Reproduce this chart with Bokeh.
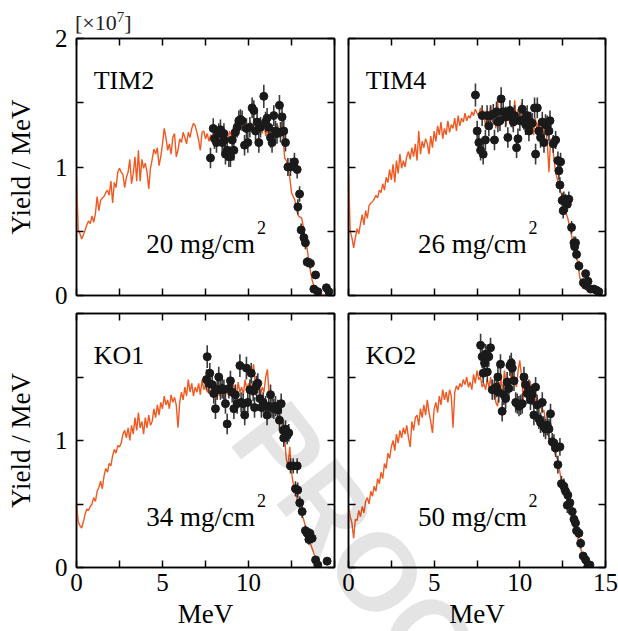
import numpy as np
from bokeh.plotting import figure
from bokeh.models import Range1d, FixedTicker, LinearAxis, Label, ColumnDataSource, Div
from bokeh.layouts import column, row
from bokeh.embed import file_html
from bokeh.resources import INLINE

FONT = "Liberation Serif"
ORANGE = "#f05a22"

# ---------------- data ----------------
SIM_STEP = 0.1  # MeV per simulation bin (bins start at 0)

tim2_sim = [0.92, 0.51, 0.48, 0.44, 0.47, 0.51, 0.55, 0.58, 0.56, 0.62,
            0.57, 0.64, 0.77, 0.66, 0.74, 0.76, 0.77, 0.80, 0.82, 0.78,
            0.89, 0.72, 0.88, 0.84, 0.96, 0.99, 0.96, 0.94, 0.84, 0.92,
            0.96, 1.06, 0.87, 0.95, 1.08, 0.89, 1.13, 0.89, 1.06, 0.99,
            1.03, 0.96, 0.83, 0.99, 1.06, 1.14, 1.10, 1.15, 1.01, 1.08,
            1.18, 1.30, 1.23, 1.13, 1.18, 1.10, 1.23, 1.26, 1.08, 1.13,
            1.22, 1.19, 1.27, 1.23, 1.18, 1.27, 1.23, 1.30, 1.34, 1.32,
            1.27, 1.21, 1.13, 1.27, 1.28, 1.22, 1.26, 1.20,
            1.25, 1.22, 1.28, 1.20, 1.25, 1.30, 1.22, 1.27, 1.15, 1.25,
            1.20, 1.28, 1.24, 1.30, 1.26, 1.32, 1.25, 1.35, 1.30, 1.36,
            1.28, 1.33, 1.30, 1.36, 1.28, 1.32, 1.25, 1.35, 1.28, 1.32,
            1.26, 1.38, 1.24, 1.30, 1.22, 1.33, 1.26, 1.30, 1.24, 1.32,
            1.28, 1.30,
            1.25, 1.07, 1.05, 0.98, 0.92, 0.80, 0.77, 0.74, 0.66, 0.62,
            0.61, 0.60, 0.52, 0.45, 0.37, 0.28, 0.19, 0.12, 0.07, 0.04,
            0.02, 0.01, 0.01, 0.01, 0.00, 0.00]

tim4_sim = [0.95, 0.50, 0.45, 0.37, 0.45, 0.52, 0.48, 0.56, 0.63, 0.55,
            0.66, 0.60, 0.70, 0.72, 0.73, 0.75, 0.78, 0.76, 0.82, 0.80,
            0.87, 0.82, 0.92, 0.88, 0.98, 0.90, 1.02, 0.88, 1.05, 0.95,
            1.10, 0.99, 1.05, 1.00, 1.08, 1.12, 1.06, 1.15, 1.08, 1.18,
            1.05, 1.28, 1.10, 1.20, 1.15, 1.22, 1.18, 1.10, 1.24, 1.15,
            1.28, 1.20, 1.32, 1.25, 1.35, 1.22, 1.30, 1.25, 1.36, 1.27,
            1.33, 1.30, 1.38, 1.28, 1.40, 1.32, 1.38, 1.35, 1.42, 1.36,
            1.40, 1.38, 1.43, 1.40, 1.45, 1.42, 1.40, 1.46, 1.38, 1.44,
            1.30, 1.42, 1.36, 1.48, 1.35, 1.42, 1.30, 1.52, 1.36, 1.45,
            1.38, 1.42, 1.32, 1.45, 1.35, 1.40, 1.30, 1.52, 1.35, 1.45,
            1.38, 1.50, 1.32, 1.45, 1.38, 1.42, 1.30, 1.40, 1.25, 1.38,
            1.30, 1.36, 1.28, 1.35, 1.25, 1.30,
            1.20, 0.96, 1.22, 1.18, 1.05, 0.95, 0.90, 0.85, 0.80, 0.76,
            0.70, 0.64, 0.60, 0.54, 0.48, 0.42, 0.36, 0.30, 0.24, 0.14,
            0.10, 0.08, 0.06, 0.04, 0.04, 0.03, 0.03, 0.03, 0.02, 0.02,
            0.01, 0.00]

ko1_sim = [0.51, 0.36, 0.33, 0.31, 0.36, 0.42, 0.46, 0.45, 0.48, 0.50,
           0.55, 0.52, 0.60, 0.63, 0.68, 0.62, 0.72, 0.78, 0.75, 0.82,
           0.80, 0.88, 0.93, 0.90, 0.96, 0.95, 0.98, 1.05, 1.08, 1.02,
           1.10, 1.00, 1.12, 1.05, 1.18, 1.08, 1.22, 1.10, 1.15, 1.05,
           1.18, 1.10, 1.20, 1.12, 1.15, 1.25, 1.18, 1.28, 1.20, 1.30,
           1.25, 1.35, 1.28, 1.32, 1.25, 1.36, 1.30, 1.34, 1.28, 1.10,
           1.30, 1.38, 1.32, 1.42, 1.35, 1.48, 1.38, 1.45, 1.35, 1.42,
           1.38, 1.45, 1.36, 1.48, 1.40, 1.44, 1.38, 1.42, 1.35, 1.45,
           1.38, 1.32, 1.42, 1.35, 1.45, 1.38, 1.30, 1.42, 1.36, 1.44,
           1.38, 1.45, 1.40, 1.35, 1.46, 1.38, 1.42, 1.36, 1.48, 1.40,
           1.45, 1.38, 1.52, 1.60, 1.42, 1.38, 1.45, 1.36, 1.42, 1.38,
           1.50, 1.56, 1.35, 1.40, 1.32, 1.30, 1.25, 1.28, 1.22, 1.15,
           1.08, 1.02, 0.85, 0.80, 0.95, 0.75, 0.66, 0.60, 0.56, 0.50,
           0.45, 0.42, 0.38, 0.33, 0.29, 0.24, 0.19, 0.15, 0.11, 0.07,
           0.04, 0.02, 0.00, 0.00]

ko2_sim = [0.48, 0.40, 0.35, 0.23, 0.38, 0.37, 0.45, 0.40, 0.48, 0.43,
           0.52, 0.55, 0.50, 0.60, 0.56, 0.64, 0.60, 0.70, 0.66, 0.75,
           0.70, 0.82, 0.78, 0.90, 0.86, 0.95, 1.00, 0.92, 1.05, 0.98,
           1.08, 1.02, 1.10, 1.05, 1.12, 1.02, 0.95, 1.15, 1.08, 1.18,
           1.20, 1.12, 1.25, 1.18, 1.28, 1.20, 1.32, 1.22, 1.15, 1.06,
           1.25, 1.30, 1.22, 1.35, 1.28, 1.40, 1.32, 1.38, 1.30, 1.40,
           1.35, 1.10, 1.38, 1.43, 1.40, 1.45, 1.42, 1.48, 1.44, 1.50,
           1.42, 1.46, 1.40, 1.52, 1.45, 1.55, 1.48, 1.50, 1.42, 1.45,
           1.40, 1.48, 1.42, 1.50, 1.35, 1.45, 1.30, 1.27, 1.40, 1.48,
           1.38, 1.55, 1.45, 1.50, 1.40, 1.55, 1.45, 1.50, 1.42, 1.55,
           1.63, 1.50, 1.32, 1.45, 1.38, 1.42, 1.47, 1.35, 1.40, 1.30,
           1.34, 1.28, 1.30, 1.22, 1.24, 1.15, 1.10, 1.02, 0.98, 0.95,
           0.92, 0.88, 0.85, 0.78, 0.70, 0.64, 0.60, 0.55, 0.50, 0.47,
           0.44, 0.38, 0.32, 0.27, 0.22, 0.17, 0.13, 0.10, 0.07, 0.05,
           0.04, 0.02, 0.01]

tim2_x = [7.79, 7.95, 8.02, 8.14, 8.27, 8.37, 8.47, 8.57, 8.60, 8.66,
          8.76, 8.86, 8.95, 9.05, 9.15, 9.24, 9.34, 9.44, 9.53, 9.63,
          9.77, 9.88, 9.96, 10.08, 10.21, 10.31, 10.41, 10.50, 10.60, 10.70,
          10.89, 10.99, 11.08, 11.18, 11.28, 11.37, 11.47, 11.57, 11.66, 11.80,
          11.86, 11.95, 12.05, 12.15, 12.29, 12.44, 12.67, 12.83, 12.97, 12.87,
          13.06, 13.22, 13.31, 13.41, 13.60, 13.90, 13.80, 14.03, 14.53, 14.67]
tim2_y = [1.07, 1.30, 1.22, 1.19, 1.26, 1.29, 1.19, 1.26, 1.21, 1.10,
          1.13, 1.08, 1.08, 1.21, 1.13, 1.27, 1.31, 1.36, 1.37, 1.36,
          1.17, 1.30, 1.19, 1.31, 1.46, 1.44, 1.28, 1.35, 1.19, 1.31,
          1.55, 1.35, 1.38, 1.31, 1.23, 1.19, 1.40, 1.28, 1.26, 1.48,
          1.27, 1.39, 1.28, 1.19, 1.00, 1.00, 1.04, 0.98, 0.79, 0.69,
          0.51, 0.45, 0.41, 0.26, 0.25, 0.16, 0.05, 0.03, 0.06, 0.03]
tim2_err = [0.08, 0.08, 0.08, 0.08, 0.08, 0.08, 0.08, 0.08, 0.08, 0.08,
            0.08, 0.08, 0.08, 0.08, 0.08, 0.08, 0.08, 0.08, 0.08, 0.08,
            0.08, 0.08, 0.08, 0.08, 0.08, 0.08, 0.08, 0.08, 0.08, 0.08,
            0.09, 0.08, 0.08, 0.08, 0.08, 0.08, 0.08, 0.08, 0.08, 0.08,
            0.08, 0.08, 0.08, 0.07, 0.07, 0.07, 0.07, 0.07, 0.06, 0.06,
            0.05, 0.05, 0.05, 0.04, 0.04, 0.03, 0.03, 0.02, 0.02, 0.02]

tim4_x = [7.41, 7.51, 7.61, 7.71, 7.86, 7.80, 7.99, 8.09, 8.19, 8.29,
          8.45, 8.52, 8.64, 8.72, 8.84, 8.91, 9.03, 9.17, 9.30, 9.42,
          9.50, 9.62, 9.69, 9.81, 9.89, 10.00, 10.14, 10.24, 10.34, 10.43,
          10.53, 10.63, 10.72, 10.86, 10.92, 11.02, 11.11, 11.21, 11.31, 11.41,
          11.50, 11.60, 11.70, 11.76, 11.95, 12.09, 12.22, 12.28, 12.38, 12.34,
          12.47, 12.57, 12.67, 12.77, 12.86, 12.53, 13.02, 13.16, 13.25, 13.20,
          13.31, 13.45, 13.84, 13.71, 13.84, 13.98, 14.13, 14.32, 14.48, 14.61]
tim4_y = [1.56, 1.28, 1.19, 1.13, 1.10, 1.40, 1.21, 1.40, 1.32, 1.40,
          1.41, 1.21, 1.43, 1.35, 1.36, 1.53, 1.43, 1.39, 1.23, 1.44,
          1.39, 1.35, 1.40, 1.15, 1.22, 1.36, 1.45, 1.37, 1.33, 1.40,
          1.28, 1.35, 1.34, 1.46, 1.10, 1.46, 1.28, 1.23, 1.35, 1.19,
          1.33, 1.32, 1.28, 1.36, 1.18, 1.21, 1.05, 0.97, 1.04, 0.86,
          0.74, 0.75, 0.73, 0.71, 0.75, 0.66, 0.53, 0.41, 0.41, 0.38,
          0.32, 0.23, 0.17, 0.10, 0.08, 0.11, 0.05, 0.05, 0.04, 0.03]
tim4_err = [0.09, 0.08, 0.08, 0.08, 0.08, 0.08, 0.08, 0.08, 0.08, 0.08,
            0.08, 0.08, 0.08, 0.08, 0.08, 0.09, 0.08, 0.08, 0.08, 0.08,
            0.08, 0.08, 0.08, 0.08, 0.08, 0.08, 0.08, 0.08, 0.08, 0.08,
            0.08, 0.08, 0.08, 0.08, 0.08, 0.08, 0.08, 0.08, 0.08, 0.08,
            0.08, 0.08, 0.08, 0.08, 0.07, 0.07, 0.07, 0.07, 0.07, 0.06,
            0.06, 0.06, 0.06, 0.06, 0.06, 0.06, 0.05, 0.05, 0.05, 0.05,
            0.04, 0.04, 0.03, 0.03, 0.03, 0.03, 0.02, 0.02, 0.02, 0.02]

ko1_x = [7.60, 7.56, 7.75, 7.69, 7.89, 7.98, 8.08, 8.18, 8.27, 8.37,
         8.47, 8.57, 8.66, 8.76, 8.86, 8.95, 9.05, 9.15, 9.24, 9.34,
         9.50, 9.57, 9.69, 9.78, 9.88, 9.96, 10.08, 10.16, 10.27, 10.35,
         10.46, 10.54, 10.66, 10.75, 10.85, 10.99, 11.08, 11.18, 11.28, 11.37,
         11.47, 11.57, 11.70, 11.80, 11.90, 12.02, 12.15, 12.25, 12.05, 12.34,
         12.44, 12.60, 12.83, 12.73, 12.86, 12.98, 13.12, 13.31, 13.41, 13.51,
         13.57, 13.70, 13.90, 14.03, 14.57]
ko1_y = [1.66, 1.48, 1.53, 1.45, 1.44, 1.37, 1.25, 1.40, 1.50, 1.40,
         1.41, 1.40, 1.29, 1.13, 1.41, 1.47, 1.38, 1.25, 1.36, 1.29,
         1.59, 1.30, 1.29, 1.20, 1.57, 1.30, 1.40, 1.53, 1.39, 1.26,
         1.43, 1.45, 1.33, 1.26, 1.30, 1.27, 1.20, 1.27, 1.36, 1.26,
         1.25, 1.27, 1.24, 1.16, 1.29, 1.08, 1.09, 1.04, 1.02, 1.06,
         0.80, 0.80, 0.80, 0.62, 0.61, 0.51, 0.44, 0.29, 0.27, 0.22,
         0.27, 0.23, 0.06, 0.02, 0.05]
ko1_err = [0.09, 0.08, 0.08, 0.08, 0.08, 0.08, 0.08, 0.08, 0.08, 0.08,
           0.08, 0.08, 0.08, 0.08, 0.08, 0.08, 0.08, 0.08, 0.08, 0.08,
           0.09, 0.08, 0.08, 0.08, 0.09, 0.08, 0.08, 0.08, 0.08, 0.08,
           0.08, 0.08, 0.08, 0.08, 0.08, 0.08, 0.08, 0.08, 0.08, 0.08,
           0.08, 0.08, 0.08, 0.08, 0.08, 0.07, 0.07, 0.07, 0.07, 0.07,
           0.06, 0.06, 0.06, 0.06, 0.06, 0.05, 0.05, 0.04, 0.04, 0.04,
           0.04, 0.04, 0.02, 0.02, 0.02]

ko2_x = [7.71, 7.80, 7.86, 7.94, 8.00, 8.10, 8.19, 8.29, 8.39, 8.52,
         8.64, 8.72, 8.77, 8.87, 8.97, 9.07, 9.17, 9.26, 9.36, 9.42,
         9.50, 9.56, 9.66, 9.76, 9.85, 9.95, 10.04, 10.14, 10.24, 10.33,
         10.43, 10.53, 10.62, 10.72, 10.82, 10.92, 11.01, 11.11, 11.21, 11.31,
         11.40, 11.50, 11.60, 11.70, 11.79, 11.89, 11.99, 12.09, 12.22, 12.34,
         12.43, 12.57, 12.67, 12.80, 12.92, 12.77, 13.06, 13.16, 13.25, 13.31,
         13.45, 13.55, 13.70, 13.84, 13.97, 14.09]
ko2_y = [1.75, 1.66, 1.53, 1.61, 1.68, 1.54, 1.66, 1.73, 1.40, 1.40,
         1.42, 1.50, 1.38, 1.60, 1.23, 1.36, 1.33, 1.46, 1.41, 1.59,
         1.61, 1.57, 1.47, 1.30, 1.29, 1.27, 1.28, 1.29, 1.50, 1.44,
         1.37, 1.40, 1.32, 1.36, 1.20, 1.42, 1.28, 1.17, 1.14, 1.30,
         1.11, 1.09, 1.12, 1.09, 1.21, 0.99, 0.98, 0.94, 0.81, 0.95,
         0.66, 0.64, 0.60, 0.57, 0.51, 0.49, 0.44, 0.38, 0.35, 0.29,
         0.27, 0.19, 0.09, 0.06, 0.01, 0.02]
ko2_err = [0.09, 0.09, 0.08, 0.08, 0.08, 0.08, 0.08, 0.08, 0.08, 0.08,
           0.08, 0.08, 0.08, 0.08, 0.08, 0.08, 0.08, 0.08, 0.08, 0.08,
           0.08, 0.08, 0.08, 0.08, 0.08, 0.08, 0.08, 0.08, 0.08, 0.08,
           0.08, 0.08, 0.08, 0.08, 0.08, 0.08, 0.08, 0.08, 0.08, 0.08,
           0.08, 0.08, 0.08, 0.08, 0.08, 0.07, 0.07, 0.07, 0.07, 0.07,
           0.06, 0.06, 0.06, 0.06, 0.06, 0.06, 0.05, 0.05, 0.05, 0.05,
           0.04, 0.04, 0.03, 0.03, 0.02, 0.02]

panel_names = ["TIM2", "TIM4", "KO1", "KO2"]
thickness_labels = ["20 mg/cm", "26 mg/cm", "34 mg/cm", "50 mg/cm"]
sim_series = [tim2_sim, tim4_sim, ko1_sim, ko2_sim]
data_x = [tim2_x, tim4_x, ko1_x, ko2_x]
data_y = [tim2_y, tim4_y, ko1_y, ko2_y]
data_err = [tim2_err, tim4_err, ko1_err, ko2_err]

X_TICKS = [0, 2.5, 5, 7.5, 10, 12.5, 15]
X_LABELLED = [0, 5, 10, 15]
Y_TICKS = [0, 0.5, 1, 1.5, 2]
Y_LABELLED = [0, 1, 2]
SCALE_TEXT = "[\u00d710"
SCALE_EXP = "7"
WATERMARK_TEXT = "PROOF"


def make_axis(ticks, labelled, drop=()):
    """Ticks that carry a label are major ticks, the others minor ticks of equal length."""
    major = [t for t in ticks if t in labelled and t not in drop]
    minor = [t for t in ticks if t not in major]
    ax = LinearAxis(ticker=FixedTicker(ticks=major, minor_ticks=minor))
    for kind in ("major", "minor"):
        setattr(ax, f"{kind}_tick_in", 7)
        setattr(ax, f"{kind}_tick_out", 0)
        setattr(ax, f"{kind}_tick_line_color", "black")
        setattr(ax, f"{kind}_tick_line_width", 1.5)
    ax.axis_line_color = "black"
    ax.axis_line_width = 1.5
    ax.major_label_text_font = FONT
    ax.major_label_text_color = "black"
    ax.major_label_text_font_size = "25px"
    ax.axis_label_text_font = FONT
    ax.axis_label_text_font_style = "normal"
    ax.axis_label_text_color = "black"
    ax.axis_label_text_font_size = "27px"
    if not major:
        ax.major_label_standoff = 0
    return ax


def make_panel(i, w, h, bl, br, bt, bb, xlab, ylab, xdrop, ydrop):
    p = figure(width=w, height=h, x_range=Range1d(0, 15), y_range=Range1d(0, 2),
               output_backend="svg", toolbar_location=None,
               x_axis_location=None, y_axis_location=None,
               min_border_left=bl, min_border_right=br,
               min_border_top=bt, min_border_bottom=bb)
    p.grid.visible = False
    p.outline_line_color = "black"
    p.outline_line_width = 1.5
    p.background_fill_color = None
    p.border_fill_color = None

    bx = make_axis(X_TICKS, X_LABELLED if xlab else [], xdrop)
    if xlab:
        bx.axis_label = "MeV"
        bx.major_label_standoff = 6
        bx.axis_label_standoff = 5
    p.add_layout(bx, "below")
    p.add_layout(make_axis(X_TICKS, []), "above")

    ly = make_axis(Y_TICKS, Y_LABELLED if ylab else [], ydrop)
    if ylab:
        ly.axis_label = "Yield / MeV"
        ly.major_label_standoff = 9
        ly.axis_label_standoff = 16
    p.add_layout(ly, "left")
    p.add_layout(make_axis(Y_TICKS, []), "right")

    sim = sim_series[i]
    sx = np.arange(len(sim)) * SIM_STEP
    p.line(sx, sim, line_color=ORANGE, line_width=1.4)

    dx = np.array(data_x[i])
    dy = np.array(data_y[i])
    de = np.array(data_err[i])
    src = ColumnDataSource(dict(x=dx, y=dy, lo=dy - de, hi=dy + de))
    p.segment(x0="x", y0="lo", x1="x", y1="hi", source=src,
              line_color="#3a3a3a", line_width=1.6)
    p.scatter("x", "y", source=src, size=8, fill_color="#1a1a1a",
              line_color="#1a1a1a")

    p.add_layout(Label(x=1.0, y=1.67, text=panel_names[i], text_font=FONT,
                       text_font_size="26px", text_color="black",
                       text_baseline="alphabetic"))
    p.add_layout(Label(x=4.05, y=0.40, text=thickness_labels[i], text_font=FONT,
                       text_font_size="27px", text_color="black",
                       text_baseline="alphabetic"))
    p.add_layout(Label(x=10.5, y=0.53, text="2", text_font=FONT,
                       text_font_size="18px", text_color="black",
                       text_baseline="alphabetic"))
    return p


p1 = make_panel(0, 338, 308, 76, 4, 38, 13, False, True, (), ())
p2 = make_panel(1, 280, 308, 10, 13, 38, 13, False, False, (), ())
p3 = make_panel(2, 338, 323, 76, 4, 5, 63, True, True, (15,), (2,))
p4 = make_panel(3, 280, 323, 10, 13, 5, 63, True, False, (), ())

# page-level overlay: the scale factor above the upper-left panel and the
# light "PROOF" watermark that runs across the lower panels
overlay = Div(width=618, height=0, margin=0, text=(
    '<div style="position:absolute;left:0;top:0;width:618px;height:631px;'
    'overflow:hidden;pointer-events:none;z-index:20;">'
    '<div style="position:absolute;left:75px;top:12px;white-space:nowrap;'
    "font-family:'Liberation Serif';font-size:22px;line-height:1;color:#222;\">"
    f'{SCALE_TEXT}<span style="font-size:15px;position:relative;top:-8px;">'
    f'{SCALE_EXP}</span>]</div>'
    '<div style="position:absolute;left:300px;top:384px;white-space:nowrap;'
    'transform-origin:0 0;transform:rotate(52deg);'
    "font-family:'Liberation Sans';font-weight:bold;font-size:110px;line-height:1;"
    f'color:rgba(0,0,0,0.105);">{WATERMARK_TEXT}</div>'
    '</div>'))

layout = column(overlay, row(p1, p2), row(p3, p4))
open("out.html", "w").write(file_html(layout, INLINE))
